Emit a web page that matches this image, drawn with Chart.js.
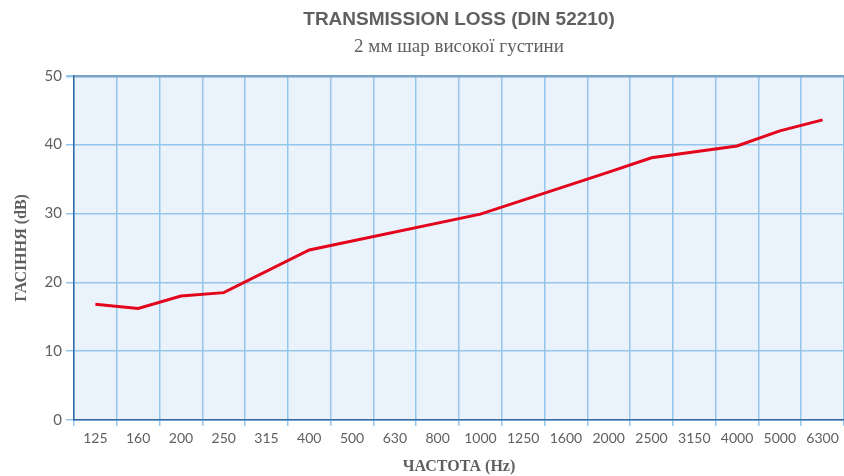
<!DOCTYPE html>
<html>
<head>
<meta charset="utf-8">
<script src="https://cdn.jsdelivr.net/npm/chart.js@4"></script>
<style>
  body { margin: 0; background: #ffffff; }
  #wrap { width: 844px; height: 476px; position: relative; }
</style>
</head>
<body>
<div id="wrap"><canvas id="chart-loss"></canvas></div>
<script>
const FREQUENCIES = ["125", "160", "200", "250", "315", "400", "500", "630", "800", "1000",
	"1250", "1600", "2000", "2500", "3150", "4000", "5000", "6300"];
// gaps are straight segments in the original
const LOSS_DB = [16.8, 16.2, 18.0, 18.5, null, 24.7, null, null, null, 29.9,
	null, null, 36.0, 38.1, null, 39.8, 42.0, 43.6];
const Y_TICKS = [0, 10, 20, 30, 40, 50];

const GRID = "#93c6ea";
const AXIS = "#2f68a3";
const TEXT = "#5f6062";

// light blue plot background
const plotBg = {
	id: "plotBg",
	beforeDraw(chart) {
		const { ctx, chartArea: a } = chart;
		ctx.save();
		ctx.fillStyle = "#eaf2fb";
		ctx.fillRect(a.left, a.top, a.right - a.left, a.bottom - a.top);
		ctx.restore();
	},
};

const WRAPPER = document.getElementById("chart-loss");

new Chart(WRAPPER, {
	type: "line",
	data: {
		labels: FREQUENCIES,
		datasets: [
			{
				data: LOSS_DB,
				borderColor: "#e3051b",
				borderWidth: 3,
				pointRadius: 0,
				tension: 0,
				spanGaps: true,
			},
		],
	},
	options: {
		responsive: true,
		maintainAspectRatio: false,
		animation: false,
		layout: { padding: 0 },
		plugins: {
			legend: { display: false },
			tooltip: { enabled: false },
			title: {
				display: true,
				fullSize: false,
				text: "TRANSMISSION LOSS (DIN 52210)",
				color: TEXT,
				font: { family: "'Liberation Sans', sans-serif", size: 19, weight: "bold", lineHeight: 1.1 },
				padding: { top: 9, bottom: 5 },
			},
			subtitle: {
				display: true,
				fullSize: false,
				text: "2 мм шар високої густини",
				color: TEXT,
				font: { family: "'Liberation Serif', serif", size: 19, lineHeight: 1.1 },
				padding: { top: 2, bottom: 18 },
			},
		},
		scales: {
			x: {
				offset: true,
				grid: {
					offset: true,
					color: GRID,
					lineWidth: 1.5,
					tickLength: 6,
					tickColor: GRID,
				},
				border: { color: AXIS, width: 1.5 },
				ticks: {
					color: TEXT,
					font: { family: "Lato, sans-serif", size: 14 },
					padding: 4,
					maxRotation: 0,
					autoSkip: false,
				},
				title: {
					display: true,
					text: "ЧАСТОТА (Hz)",
					color: TEXT,
					font: { family: "'Liberation Serif', serif", size: 16, weight: "bold" },
					padding: { top: 8, bottom: 0 },
				},
				afterFit(scale) {
					scale.height = 56;
				},
			},
			y: {
				min: 0,
				max: 50,
				afterBuildTicks(scale) {
					scale.ticks = Y_TICKS.map((v) => ({ value: v }));
				},
				grid: {
					color: (c) => (c.tick && c.tick.value === 50 ? "#7aa3c8" : GRID),
					lineWidth: (c) => (c.tick && c.tick.value === 50 ? 2.5 : 1.5),
					tickLength: 8,
					tickColor: GRID,
				},
				border: { color: AXIS, width: 1.5 },
				ticks: {
					color: TEXT,
					font: { family: "Lato, sans-serif", size: 15 },
					padding: 4,
				},
				title: {
					display: true,
					text: "ГАСІННЯ (dB)",
					color: TEXT,
					font: { family: "'Liberation Serif', serif", size: 16, weight: "bold" },
					padding: { top: 12, bottom: 0 },
				},
				afterFit(scale) {
					scale.width = 74;
				},
			},
		},
	},
	plugins: [plotBg],
});
</script>
</body>
</html>
